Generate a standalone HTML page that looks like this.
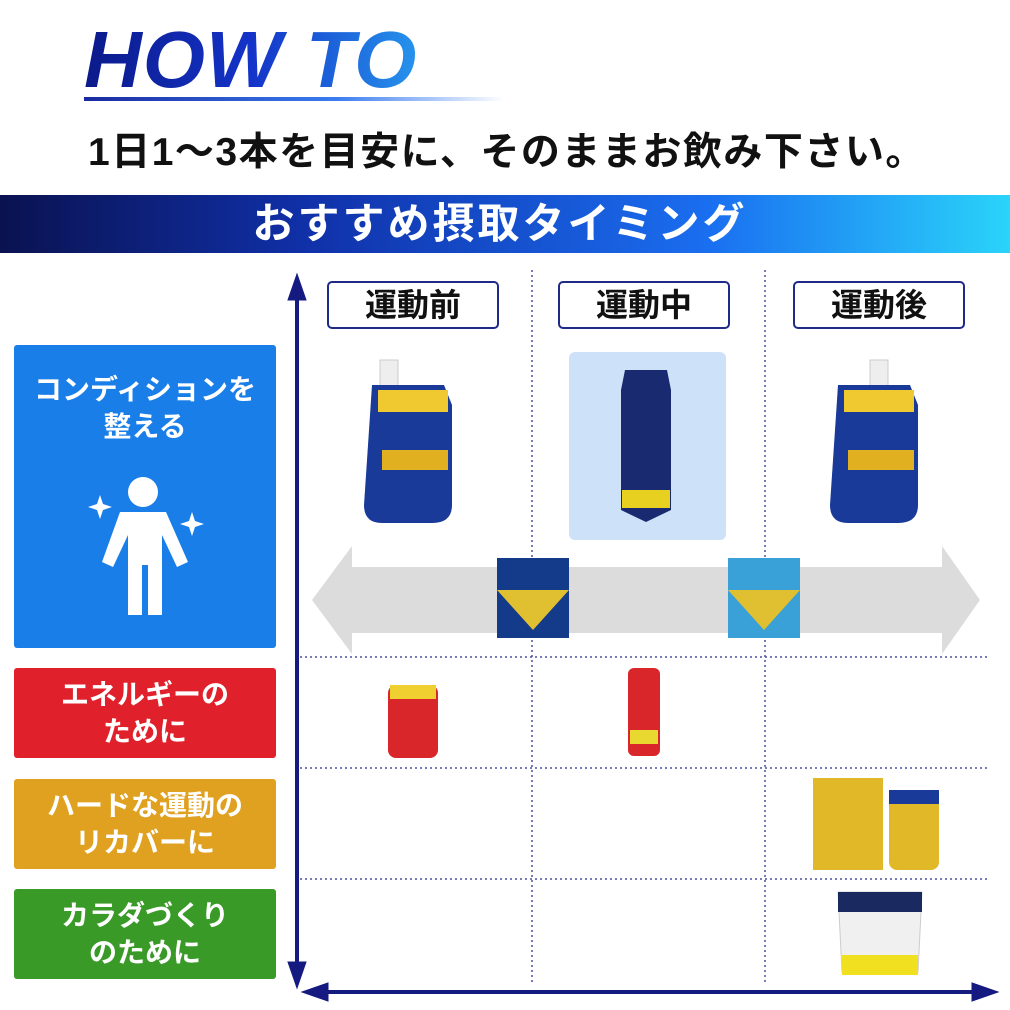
<!DOCTYPE html>
<html><head><meta charset="utf-8"><style>
body{margin:0;width:1010px;height:1010px;background:#fff;position:relative;overflow:hidden;font-family:"Liberation Sans","Noto Sans CJK JP",sans-serif;font-weight:bold}
.a{position:absolute}
.hdr{position:absolute;top:281px;width:168px;height:44px;border:2px solid #1f2a88;border-radius:5px;box-sizing:content-box;text-align:center;line-height:44px;font-size:32px;color:#111}
.lb{position:absolute;left:14px;width:262px;color:#fff;font-size:28px;text-align:center;line-height:37px;border-radius:3px;display:flex;align-items:center;justify-content:center}
</style></head><body>
<div class="a" style="left:84px;top:14px;font-size:80px;font-style:italic;font-weight:900;letter-spacing:1px;background:linear-gradient(90deg,#0b1a8a 0%,#1433c8 45%,#2aa8f4 100%);-webkit-background-clip:text;background-clip:text;color:transparent;width:370px">HOW TO</div>
<div class="a" style="left:84px;top:97px;width:420px;height:4px;background:linear-gradient(90deg,#1a2aa0,#3a7cf0 60%,rgba(255,255,255,0))"></div>
<div class="a" style="left:88px;top:121px;font-size:39px;letter-spacing:1.5px;color:#111;white-space:nowrap">1日1～3本を目安に、そのままお飲み下さい。</div>
<div class="a" style="left:0;top:195px;width:1010px;height:58px;background:linear-gradient(90deg,#0a1250 0%,#1030a8 30%,#1a6ef0 70%,#2ad4fa 100%);color:#fff;font-size:42px;letter-spacing:3px;text-align:center;line-height:58px;padding-right:10px;box-sizing:border-box">おすすめ摂取タイミング</div>

<svg class="a" style="left:0;top:0" width="1010" height="1010">
<g stroke="#4a50a0" stroke-width="1.5" stroke-dasharray="2,3">
<line x1="532" y1="270" x2="532" y2="985"/><line x1="765" y1="270" x2="765" y2="985"/>
<line x1="300" y1="657" x2="990" y2="657"/><line x1="300" y1="768" x2="990" y2="768"/><line x1="300" y1="879" x2="990" y2="879"/>
</g>
<rect x="569" y="352" width="157" height="188" rx="6" fill="#cde2f8"/>
<polygon points="312,600 352,546 352,567 942,567 942,546 980,600 942,654 942,633 352,633 352,654" fill="#dcdcdc"/>
<g fill="#141a80" stroke="#141a80">
<line x1="297" y1="290" x2="297" y2="972" stroke-width="4"/>
<polygon points="297,274 288,300 306,300"/>
<polygon points="297,988 288,962 306,962"/>
<line x1="318" y1="992" x2="982" y2="992" stroke-width="4"/>
<polygon points="302,992 328,983 328,1001"/>
<polygon points="998,992 972,983 972,1001"/>
</g>
<g>
<rect x="870" y="360" width="18" height="30" fill="#eee" stroke="#ccc"/>
<rect x="380" y="360" width="18" height="30" fill="#eee" stroke="#ccc"/>
<path d="M372 385 h72 l8 20 v100 q0 18 -20 18 h-50 q-18 0 -18-18 z" fill="#1a3a9a"/>
<rect x="378" y="390" width="70" height="22" fill="#f0c830"/>
<rect x="382" y="450" width="66" height="20" fill="#e0b020"/>
<path d="M838 385 h72 l8 20 v100 q0 18 -20 18 h-50 q-18 0 -18-18 z" fill="#1a3a9a"/>
<rect x="844" y="390" width="70" height="22" fill="#f0c830"/>
<rect x="848" y="450" width="66" height="20" fill="#e0b020"/>
<path d="M625 370 h42 l4 20 v120 l-25 12 l-25 -12 v-120 z" fill="#1a2a70"/>
<rect x="622" y="490" width="48" height="18" fill="#e8d020"/>
<rect x="497" y="558" width="72" height="80" fill="#143a8a"/>
<polygon points="497,590 569,590 533,630" fill="#e0c030"/>
<rect x="728" y="558" width="72" height="80" fill="#3aa0d8"/>
<polygon points="728,590 800,590 764,630" fill="#e0c030"/>
<rect x="388" y="685" width="50" height="73" rx="8" fill="#d8262a"/>
<rect x="390" y="685" width="46" height="14" fill="#f0d030"/>
<rect x="628" y="668" width="32" height="88" rx="6" fill="#d8262a"/>
<rect x="630" y="730" width="28" height="14" fill="#e8d830"/>
<rect x="813" y="778" width="70" height="92" fill="#e0b828"/>
<rect x="889" y="793" width="50" height="77" rx="8" fill="#e0b828"/>
<rect x="889" y="790" width="50" height="14" fill="#1a3a9a"/>
<path d="M838 892 h84 l-4 80 h-76 z" fill="#f0f0f0" stroke="#cccccc"/>
<rect x="838" y="892" width="84" height="20" fill="#1a2a60"/>
<rect x="842" y="955" width="76" height="20" fill="#f0e020"/>
</g>
</svg>

<div class="hdr" style="left:327px">運動前</div>
<div class="hdr" style="left:558px">運動中</div>
<div class="hdr" style="left:793px">運動後</div>

<div class="lb" style="top:345px;height:303px;background:#1a7ee8;align-items:flex-start;padding-top:26px;box-sizing:border-box">コンディションを<br>整える</div>
<svg class="a" style="left:80px;top:470px" width="130" height="150">
<g fill="#fff">
<circle cx="63" cy="22" r="15"/>
<path d="M40 42 h46 l22 50 l-11 5 l-15 -32 v80 h-14 v-50 h-6 v50 h-14 v-80 l-15 32 l-11 -5 z"/>
<path d="M20 25 l3 9 l9 3 l-9 3 l-3 9 l-3 -9 l-9 -3 l9 -3z"/>
<path d="M112 42 l3 9 l9 3 l-9 3 l-3 9 l-3 -9 l-9 -3 l9 -3z"/>
</g></svg>
<div class="lb" style="top:668px;height:90px;background:#e0202a">エネルギーの<br>ために</div>
<div class="lb" style="top:779px;height:90px;background:#e0a020">ハードな運動の<br>リカバーに</div>
<div class="lb" style="top:889px;height:90px;background:#3a9a28">カラダづくり<br>のために</div>
</body></html>
